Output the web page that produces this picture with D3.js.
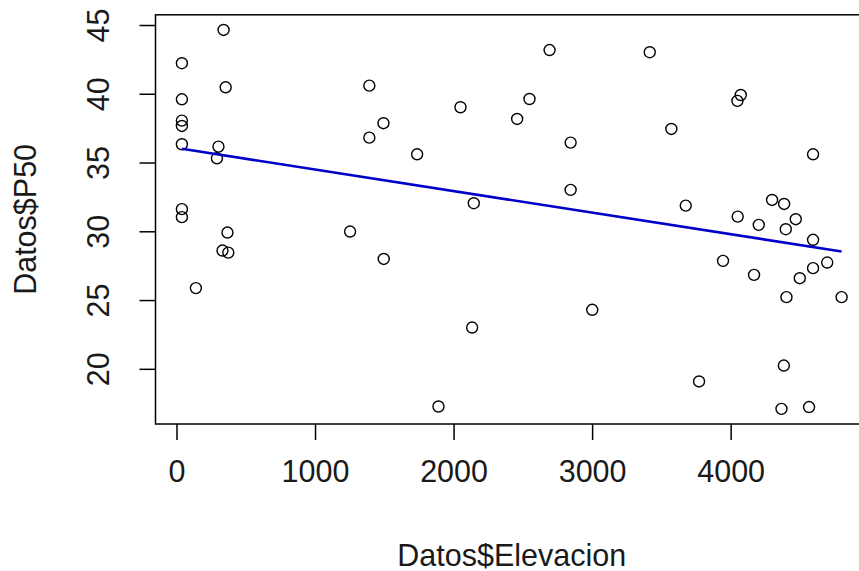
<!DOCTYPE html>
<html>
<head>
<meta charset="utf-8">
<script src="https://cdn.jsdelivr.net/npm/d3@7"></script>
<style>
  body { margin: 0; background: #fff; }
  svg { display: block; font-family: "Liberation Sans", Arial, sans-serif; }
</style>
</head>
<body>
<script>
// Datos: elevacion (m) and P50
const elevacion = [
    39, 39, 39, 39, 39, 39, 39, 340, 355, 303, 292, 368, 332, 374, 140,
    1253, 1392, 1392, 1494, 1496, 1737, 1891, 2050, 2146, 2134, 2459, 2548, 2693,
    2845, 2845, 3001, 3416, 3572, 3676, 3772, 4073, 4049, 4051, 3945, 4169, 4203,
    4299, 4386, 4470, 4398, 4595, 4595, 4499, 4595, 4697, 4403, 4801, 4384, 4367, 4566
];
const p50 = [
    42.22, 39.60, 38.05, 37.66, 36.33, 31.61, 31.03, 44.64, 40.47, 36.16, 35.31, 29.91, 28.60, 28.45, 25.87,
    29.98, 40.59, 36.81, 37.86, 27.99, 35.60, 17.26, 39.02, 32.04, 23.00, 38.17, 39.62, 43.18,
    36.45, 33.01, 24.29, 43.02, 37.44, 31.87, 19.08, 39.91, 39.48, 31.07, 27.85, 26.83, 30.47,
    32.28, 31.99, 30.88, 30.15, 29.38, 35.60, 26.59, 27.32, 27.73, 25.21, 25.21, 20.24, 17.09, 17.22
];
const xTicks = [0, 1000, 2000, 3000, 4000];
const yTicks = [20, 25, 30, 35, 40, 45];

// fitted line lm(P50 ~ Elevacion)
const fitIntercept = 36.06;
const fitSlope = -0.001568;

const w = 859, h = 571;
const pLeft = 155.5, pRight = 868, pTop = 14.8, pBottom = 424;

// R style axis range: data extent padded by 4%
const pad = (ext) => {
    const d = ext[1] - ext[0];
    return [ext[0] - 0.04 * d, ext[1] + 0.04 * d];
};

const x = d3.scaleLinear().domain(pad(d3.extent(elevacion))).range([pLeft, pRight]);
const y = d3.scaleLinear().domain(pad(d3.extent(p50))).range([pBottom, pTop]);

const svg = d3.select("body").append("svg")
    .attr("width", w)
    .attr("height", h);

svg.append("rect")
    .attr("width", w).attr("height", h)
    .attr("fill", "#fff");

// x axis
const xAxis = svg.append("g")
    .attr("transform", `translate(0,${pBottom})`)
    .call(d3.axisBottom(x).tickValues(xTicks).tickSize(16).tickPadding(20).tickFormat(d3.format("d")));
xAxis.select(".domain").remove();
xAxis.selectAll(".tick line").attr("stroke", "#000").attr("stroke-width", 1.5);
xAxis.selectAll(".tick text")
    .attr("font-size", 30.5)
    .attr("fill", "#1a1a1a")
    .attr("font-family", "Liberation Sans, Arial, sans-serif");

// y axis, labels rotated like R's default las = 0
const yAxis = svg.append("g")
    .attr("transform", `translate(${pLeft},0)`)
    .call(d3.axisLeft(y).tickValues(yTicks).tickSize(16).tickFormat(d3.format("d")));
yAxis.select(".domain").remove();
yAxis.selectAll(".tick line").attr("stroke", "#000").attr("stroke-width", 1.5);
yAxis.selectAll(".tick text")
    .attr("font-size", 30.5)
    .attr("fill", "#1a1a1a")
    .attr("font-family", "Liberation Sans, Arial, sans-serif")
    .attr("x", null).attr("dy", null)
    .attr("text-anchor", "middle")
    .attr("transform", `translate(${109 - pLeft},0) rotate(-90)`);

// plot box
svg.append("rect")
    .attr("x", pLeft).attr("y", pTop)
    .attr("width", pRight - pLeft).attr("height", pBottom - pTop)
    .attr("fill", "none")
    .attr("stroke", "#000")
    .attr("stroke-width", 1.5);

// axis titles
svg.append("text")
    .attr("x", (pLeft + pRight) / 2)
    .attr("y", 566)
    .attr("text-anchor", "middle")
    .attr("font-size", 30.5)
    .attr("fill", "#1a1a1a")
    .text("Datos$Elevacion");

svg.append("text")
    .attr("transform", `translate(36,${(pTop + pBottom) / 2}) rotate(-90)`)
    .attr("text-anchor", "middle")
    .attr("font-size", 30.5)
    .attr("fill", "#1a1a1a")
    .text("Datos$P50");

// points
const pts = elevacion.map((e, i) => ({ e: e, p: p50[i] }));
svg.selectAll(".dot")
    .data(pts)
    .enter()
    .append("circle")
    .attr("class", "dot")
    .attr("cx", d => x(d.e))
    .attr("cy", d => y(d.p))
    .attr("r", 5.5)
    .attr("fill", "none")
    .attr("stroke", "#000")
    .attr("stroke-width", 1.4);

// regression line over the data range
const xr = d3.extent(elevacion);
svg.append("line")
    .attr("x1", x(xr[0])).attr("y1", y(fitIntercept + fitSlope * xr[0]))
    .attr("x2", x(xr[1])).attr("y2", y(fitIntercept + fitSlope * xr[1]))
    .attr("stroke", "#0000c8")
    .attr("stroke-width", 2.6);
</script>
</body>
</html>
